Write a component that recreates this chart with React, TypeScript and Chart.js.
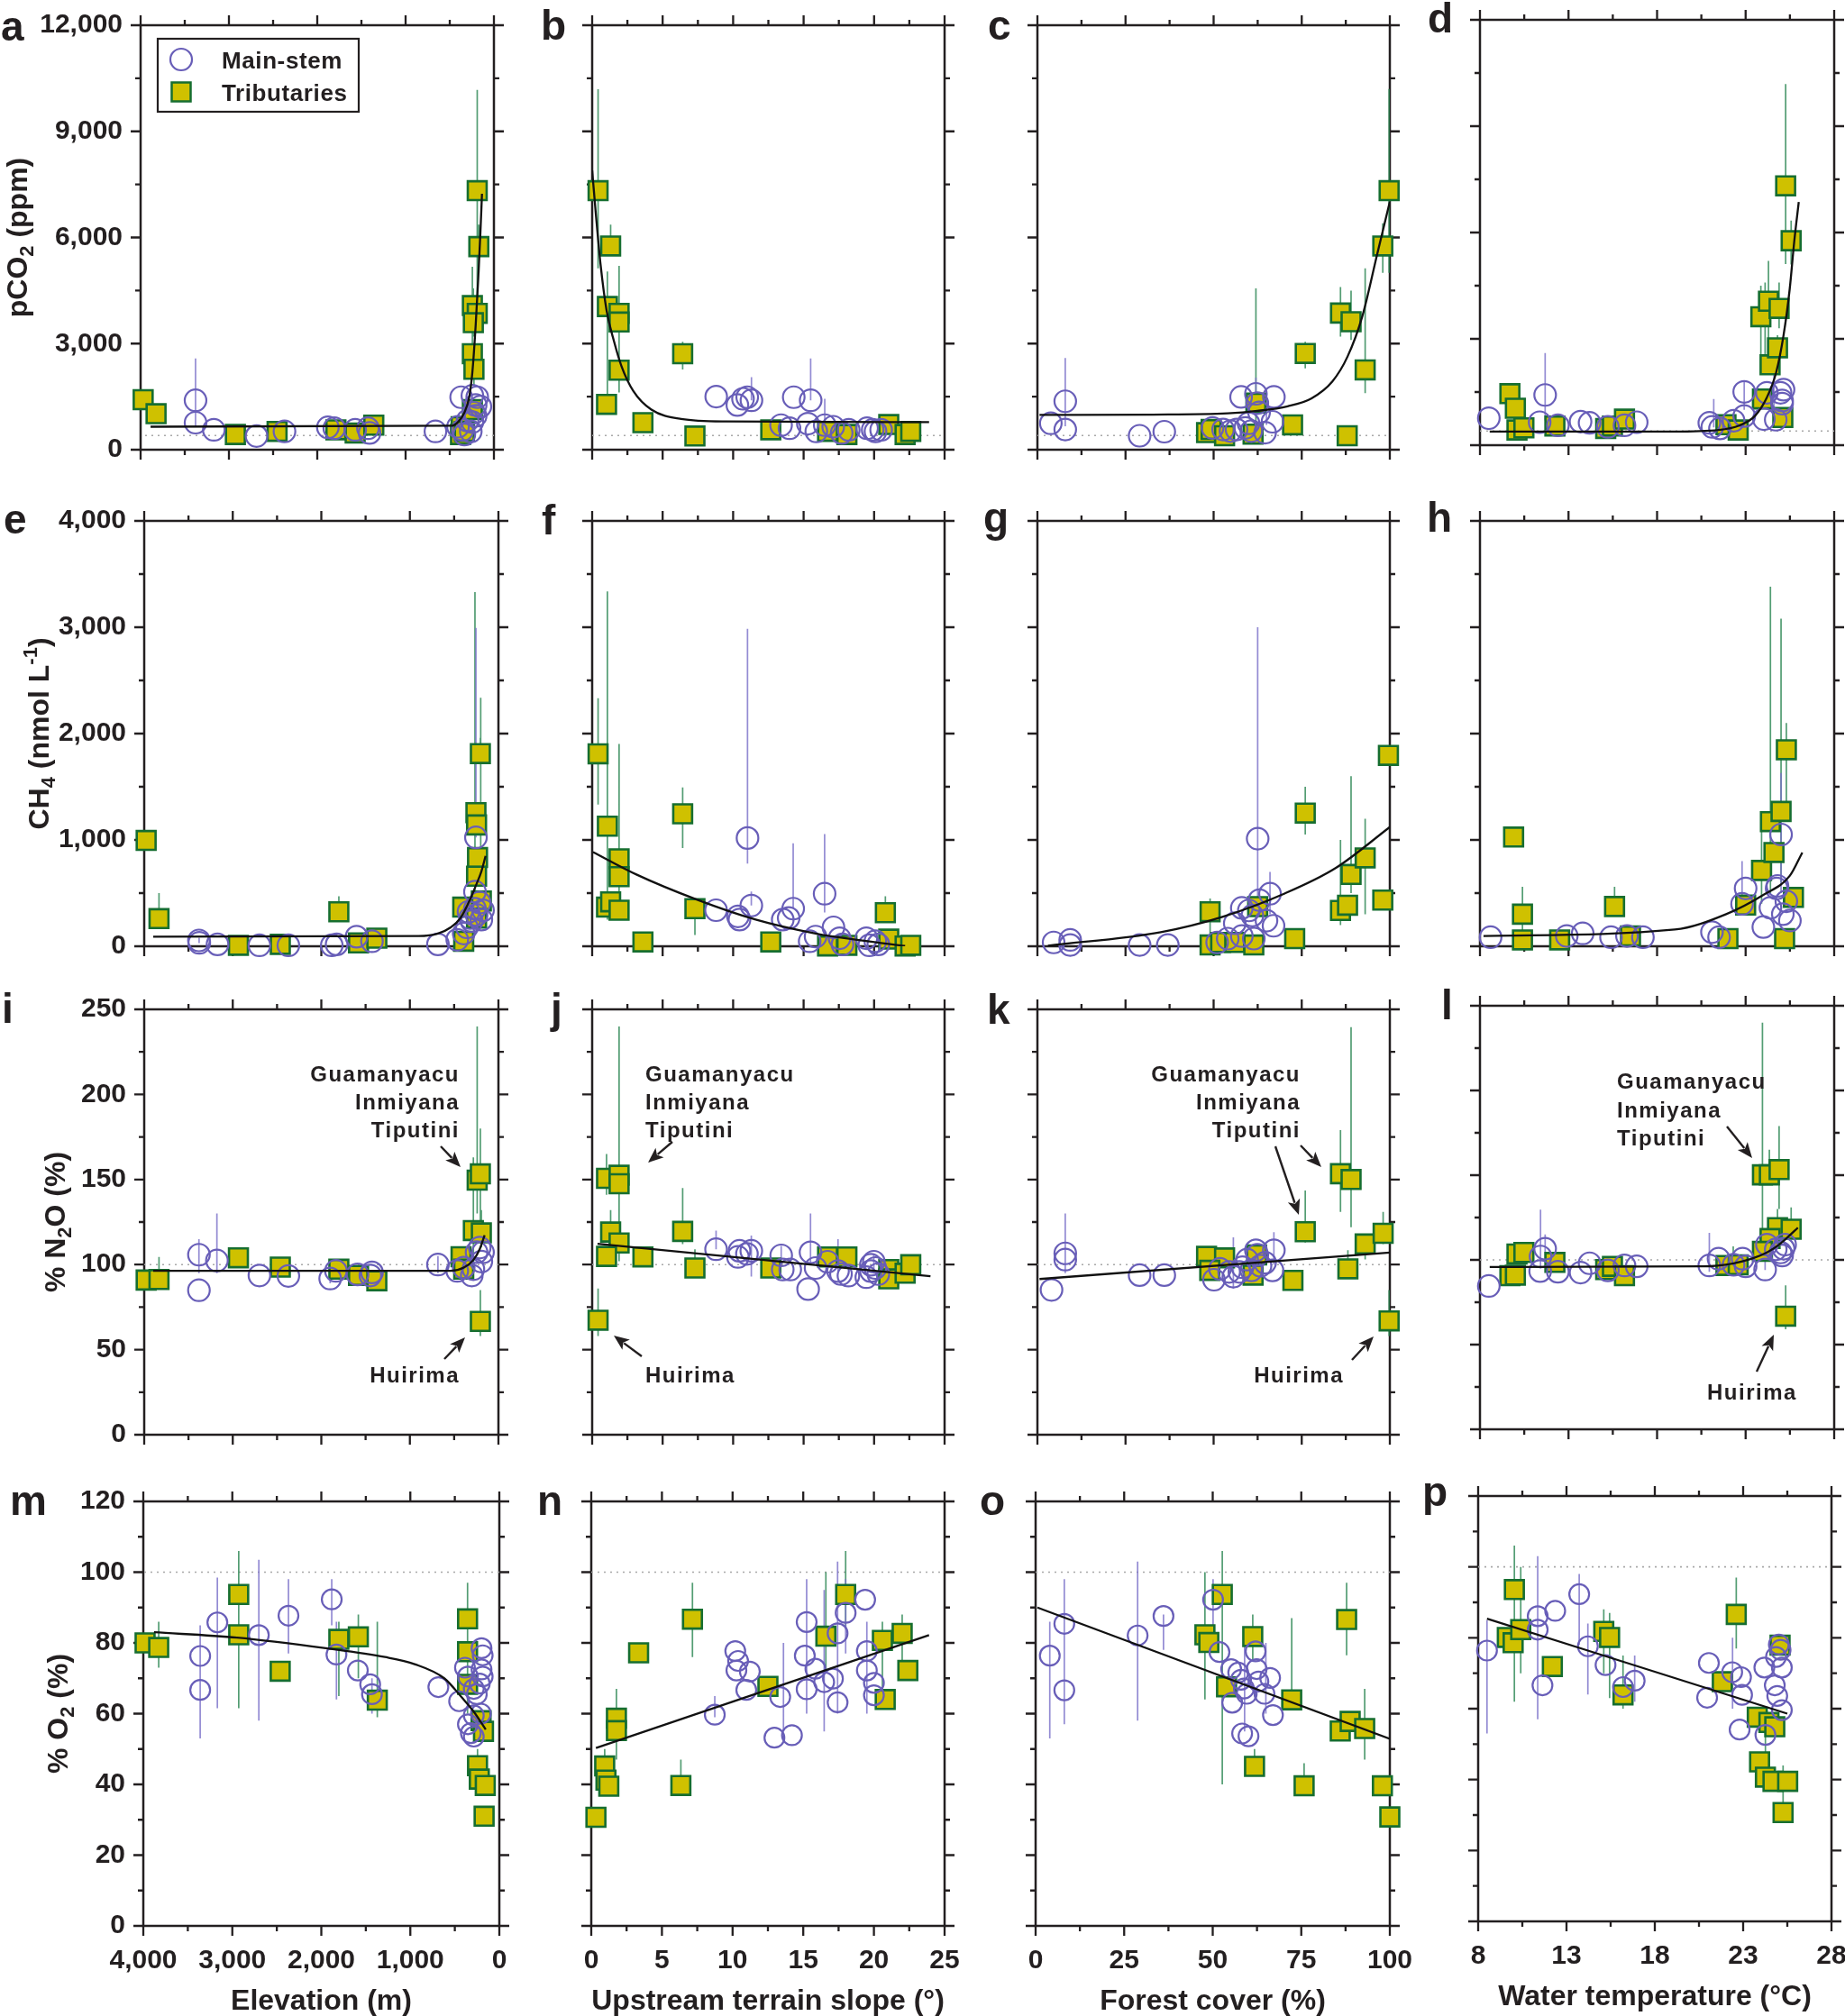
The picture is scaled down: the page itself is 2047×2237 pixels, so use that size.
import React, { useEffect, useRef } from 'react';
import { Chart, registerables } from 'chart.js';
Chart.register(...registerables);

const FONT = '"Liberation Sans", Arial, Helvetica, sans-serif';
const INK = '#231f20';
const PURPLE = 'rgb(104, 94, 184)';
const PURPLE_ERR = 'rgba(120, 110, 200, 0.8)';
const YELLOW = 'rgb(207, 193, 0)';
const GREEN = 'rgb(22, 110, 48)';
const GREEN_ERR = 'rgba(40, 132, 80, 0.8)';

// ---------- axis ticks ----------
const elevTicks = [0, 1000, 2000, 3000, 4000];
const slopeTicks = [0, 5, 10, 15, 20, 25];
const forestTicks = [0, 25, 50, 75, 100];
const tempTicks = [8, 13, 18, 23, 28];
const pco2Ticks = [0, 3000, 6000, 9000, 12000];
const ch4Ticks = [0, 1000, 2000, 3000, 4000];
const n2oTicks = [0, 50, 100, 150, 200, 250];
const o2Ticks = [0, 20, 40, 60, 80, 100, 120];

// ---------- panel a : elevation vs pCO2 ----------
const aMain = [[3378,1396],[3378,764],[3171,562],[2687,386],[2371,518],[1880,632],[1807,606],[1571,562],[1426,606],[1408,474],[662,518],[371,1484],[244,1528],[189,1484],[207,1264],[226,1045],[298,825],[244,781],[407,650],[353,562],[335,430],[262,518],[207,957],[153,1220]];
const aTrib = [[3971,1414],[3825,1018],[2927,430],[2455,518],[1789,562],[1571,474],[1360,694],[189,7323],[171,5742],[244,4074],[189,3855],[233,3591],[244,2713],[226,2274],[371,650],[378,430],[244,1133],[335,518]];
const aMainErr = [[3378,650,2580],[300,700,1500]];
const aTribErr = [[189,4300,10170],[171,5000,6360],[244,3000,5170],[233,3200,4560],[226,1800,3000]];
const aFit = [[3887,650],[480,676],[407,781],[335,1045],[280,1484],[244,2186],[207,3503],[178,4820],[153,6137],[135,7235]];

// ---------- panel b : slope vs pCO2 ----------
const bMain = [[8.8,1501],[10.3,1264],[10.7,1440],[11.3,1396],[11.0,1484],[14.3,1484],[15.5,1396],[13.4,694],[14.0,606],[15.3,738],[15.9,518],[16.5,694],[17.1,650],[17.7,474],[18.2,562],[19.5,606],[19.9,562],[20.1,518],[20.5,562]];
const bTrib = [[0.42,7323],[1.31,5760],[1.08,4048],[1.91,3855],[1.91,3609],[1.91,2248],[1.02,1282],[3.6,764],[6.42,2713],[7.29,386],[12.67,562],[16.7,518],[18.07,430],[21.04,711],[22.2,430],[22.6,518]];
const bMainErr = [[11.3,1396,2054],[15.5,1396,2581],[16.5,694,1440]];
const bTribErr = [[0.42,5128,10194],[1.31,5760,6360],[1.08,1528,5040],[1.91,1616,5198],[6.42,2270,3050]];
const bFit = [[0,7893],[0.28,6576],[0.59,5259],[1.02,3942],[1.55,3064],[2.08,2362],[2.92,1659],[4.2,1133],[6.31,869],[9.49,799],[23.9,781]];

// ---------- panel c : forest vs pCO2 ----------
const cMain = [[3.8,746],[7.9,1370],[7.9,571],[29,395],[36,509],[49.7,615],[52.7,571],[54.8,527],[56.5,571],[57.8,1493],[59,615],[60.7,527],[62,1580],[62.4,1317],[62.9,1054],[67.1,1493],[66.7,790],[64.6,483],[59.9,746]];
const cTrib = [[48,483],[49.3,571],[53.1,395],[61.2,439],[62,1317],[72.4,702],[76,2722],[86,3863],[89,3617],[93,2257],[87.9,395],[98,5760],[99.8,7323]];
const cMainErr = [[7.9,660,2590],[62,1300,2040],[65,700,1500]];
const cTribErr = [[62,500,4560],[76,2300,3050],[86,3200,4600],[89,3100,4500],[93,1600,5130],[98,5000,6400],[99.8,5000,10200]];
const cFit = [[0.6,983],[32.7,992],[54,1027],[62.4,1097],[71,1229],[77.7,1449],[83.7,1932],[88,2634],[92.2,3775],[96.4,5523],[100,7015]];

// ---------- panel d : temperature vs pCO2 ----------
const dMain = [[8.5,762],[11.68,1418],[11.37,648],[12.4,560],[13.68,665],[14.19,630],[15.22,516],[16.16,560],[16.85,648],[20.95,630],[21.12,516],[21.55,473],[22.32,691],[22.92,1505],[22.92,823],[24.03,735],[24.2,1479],[24.7,718],[24.97,1479],[25.14,1567],[25.06,1260],[25.06,1173]];
const dTrib = [[9.69,1453],[10,1042],[10.09,429],[10.48,490],[12.23,543],[15.1,473],[15.48,543],[16.16,735],[21.89,578],[22.58,429],[23.95,1304],[24.38,2267],[24.8,2748],[23.86,3624],[24.29,4061],[24.89,3860],[25.26,7318],[25.57,5768],[25.1,779]];
const dMainErr = [[11.68,700,2600],[21.2,500,1300],[22.92,1000,1800],[24.6,800,2000]];
const dTribErr = [[25.26,5112,10188],[25.57,5100,6337],[24.29,3000,5199],[24.1,2000,4587],[24.89,3300,4587],[23.86,2000,4500],[24.8,2300,3100]];
const dFit = [[8.55,385],[18.9,385],[21.47,429],[22.66,560],[23.52,823],[24.2,1348],[24.72,2048],[25.14,3099],[25.49,4411],[25.74,5724],[26,6862]];

// ---------- panel e : elevation vs CH4 ----------
const eMain = [[3382,55],[3378,32],[3172,18],[2699,9],[2372,9],[1882,9],[1827,18],[1602,90],[1428,47],[683,18],[465,61],[392,120],[356,178],[320,265],[265,353],[254,1024],[265,513],[211,411],[174,338],[247,295],[301,236],[193,251],[338,324]];
const eTrib = [[3978,995],[3833,260],[2936,9],[2463,18],[1802,324],[1580,32],[1373,76],[204,1812],[254,1257],[247,1141],[236,834],[247,659],[193,426],[403,368],[392,47],[247,265]];
const eMainErr = [[254,1024,2993],[3380,30,80]];
const eTribErr = [[3833,260,500],[1802,240,470],[265,400,3330],[200,600,2337],[204,1812,1960]];
const eFit = [[3898,90],[901,96],[683,120],[538,178],[429,265],[320,441],[247,586],[193,703],[145,849]];

// ---------- panel f : slope vs CH4 ----------
const fMain = [[8.79,339],[10.34,281],[10.45,251],[11.29,383],[11.02,1018],[13.52,251],[13.94,266],[14.26,354],[16.49,494],[15.43,47],[15.85,91],[17.12,178],[17.55,76],[17.76,18],[19.45,76],[19.66,9],[20.09,47],[20.3,18]];
const fTrib = [[0.42,1810],[1.08,1129],[1.91,822],[1.91,655],[1.02,368],[1.31,418],[1.91,339],[3.6,41],[6.42,1246],[7.29,354],[12.67,41],[16.7,3],[18.07,9],[20.8,316],[21.04,67],[22.2,3],[22.6,9]];
const fMainErr = [[11.02,778,2985],[11.29,383,514],[14.26,354,968],[16.49,317,1056]];
const fTribErr = [[0.42,1333,2333],[1.08,251,3336],[1.91,339,1903],[6.42,924,1494],[7.29,105,354],[20.8,316,470]];
const fFit = [[0.06,886],[3.14,675],[7.37,442],[11.6,251],[15.85,120],[19.03,56],[22.2,3]];

// ---------- panel g : forest vs CH4 ----------
const gMain = [[4.6,36],[9.3,60],[9.3,12],[29,12],[37,12],[56,217],[58,361],[60,337],[62.5,1012],[63,434],[61,289],[65,241],[66,494],[54,72],[51,36],[58,96],[61.4,72],[67,193]];
const gTrib = [[49,325],[49,12],[52,36],[56,36],[61.4,12],[62.5,373],[73,72],[76,1253],[86,337],[88,386],[89,675],[93,831],[98,434],[99.6,1795]];
const gMainErr = [[62.5,300,3000],[66,300,700]];
const gTribErr = [[49,100,450],[76,1050,1500],[86,200,1000],[89,500,1600],[93,300,1200]];
const gFit = [[3,5],[35,133],[52.5,277],[70,494],[84.6,735],[100,1121]];

// ---------- panel h : temperature vs CH4 ----------
const hMain = [[8.6,85],[12.9,97],[13.8,121],[15.4,85],[16.3,97],[17.2,85],[21.1,133],[21.5,85],[22.8,399],[23,544],[24,181],[24.8,568],[25,1051],[25.1,302],[25.3,423],[24.4,362],[25.5,242],[24.75,544]];
const hTrib = [[9.9,1027],[10.4,302],[10.4,60],[12.5,60],[15.6,374],[16.5,97],[22,72],[23,387],[23.9,713],[24.4,1172],[24.6,882],[25,1268],[25.3,1848],[25.7,459],[25.2,72]];
const hMainErr = [[22.8,300,800],[25,500,1630]];
const hTribErr = [[10.4,150,560],[15.6,300,560],[24.4,500,3382],[25,600,3080],[25.3,1300,2100],[23.9,400,1200]];
const hFit = [[8.2,97],[19,157],[21.9,302],[24,483],[25.5,664],[26.2,882]];

// ---------- panel i : elevation vs N2O ----------
const iMain = [[3382,105.8],[3382,84.9],[3179,102.4],[2699,93.6],[2372,93.3],[1900,91.8],[1835,96.3],[1591,94.2],[1428,95.4],[1446,93.6],[683,100],[465,96.3],[392,98.2],[301,93.6],[247,107.3],[193,101.8],[174,107.3],[211,110],[283,97.3]];
const iTrib = [[3978,90.9],[3833,91.2],[2936,104],[2463,98.5],[1802,97.3],[1580,93.6],[1373,90.5],[240,149.6],[204,153.3],[283,120],[193,118.6],[422,104.6],[392,97.3],[204,66.6]];
const iMainErr = [[3382,95,115],[3179,95,130],[683,95,105],[1900,89,97],[465,93,108]];
const iTribErr = [[3833,91.2,104.5],[240,130,240],[204,120,180],[283,105,163],[193,110,132],[204,58,85]];
const iFit = [[3898,96.3],[538,96.3],[392,98.2],[283,102.7],[211,109.1],[156,117.3]];

// ---------- panel j : slope vs N2O ----------
const jMain = [[8.79,109],[10.34,104.5],[10.45,108.1],[11.29,108.1],[10.98,106.3],[13.41,105.4],[13.52,97.1],[14.05,97.1],[15.32,85.6],[15.49,107.2],[15.85,98],[16.7,101.7],[17.44,96.2],[17.65,94.4],[18.18,93.5],[19.45,92.6],[19.77,96.2],[19.98,101.7],[20.09,98],[20.3,94.4],[19.77,99.9]];
const jTrib = [[1.02,150.7],[1.91,152.5],[1.91,147.5],[1.31,119.1],[1.91,112.7],[1.02,104.8],[3.6,104.5],[6.42,119.5],[7.29,98],[0.42,67.3],[12.67,98],[16.7,104.5],[18.07,104.5],[21.04,97.1],[21.04,91.6],[22.2,94.9],[22.6,99.9]];
const jMainErr = [[8.79,109,120],[11.29,93,117],[13.41,100,111],[15.49,100,130],[17.44,96,115],[19.98,96,106]];
const jTribErr = [[1.02,141,165],[1.91,102,240],[1.31,119,132],[6.42,112,145],[7.29,98,109],[0.42,58,86]];
const jFit = [[0.38,112.2],[24,93.1]];

// ---------- panel k : forest vs N2O ----------
const kMain = [[4,85.1],[7.9,106.6],[7.9,102.9],[29,93.8],[36,93.8],[50.1,91.1],[51.8,97.5],[54.4,95.7],[55.6,92.9],[58.2,98.4],[59.5,102.9],[60.7,96.6],[62,108.4],[62.4,105.7],[64.6,101.1],[66.7,96.6],[67.1,108.4],[57.3,95.7],[63.3,99.3]];
const kTrib = [[48,104.8],[53.1,103.9],[48.9,96.6],[61.2,93.8],[62.2,105.7],[72.5,90.7],[76,119.3],[86,153.4],[89,150],[88.1,97.5],[93,112.1],[98.1,118.4],[99.8,66.9]];
const kMainErr = [[7.9,95,130],[55.6,86,116],[67.1,100,119],[62,95,112]];
const kTribErr = [[76,113,143.5],[86,131,179],[89,122,239.6],[88.1,97.5,108.5],[93,103,115],[98.1,112,131],[99.8,58,85]];
const kFit = [[0.6,91.5],[100,107.1]];

// ---------- panel l : temperature vs N2O ----------
const lMain = [[8.5,84.6],[11.42,102],[11.68,106.6],[11.4,93.4],[12.4,93],[13.68,92.5],[14.19,98],[15.22,93.8],[16.16,96.7],[16.85,96.2],[20.95,96.7],[21.47,100.7],[22.32,97.1],[22.83,100.7],[23,96.2],[24.1,94.3],[24.2,109],[24.7,106.2],[24.97,104.4],[25.23,109],[25.06,102.6],[25.14,106.6]];
const lTrib = [[9.69,90.7],[10,91],[10.09,103.5],[10.48,104.4],[12.23,98.5],[15.1,94.3],[15.48,96.2],[16.16,90.7],[21.89,96.7],[22.58,97.1],[23.95,150.2],[24.34,150.2],[24.89,153.3],[24.8,119],[24.38,112.6],[25.57,118.1],[23.95,105],[25.26,66.8]];
const lMainErr = [[11.42,95,129.6],[11.68,100,115],[20.95,93,116],[24.1,94,115]];
const lTribErr = [[23.95,105,240],[24.34,145,165],[24.89,130,179],[24.8,119,130],[25.57,118,131],[25.26,59,85],[22.3,97,108]];
const lFit = [[8.55,95.8],[20.6,96.2],[22.32,98],[23.35,100.7],[24.2,104.4],[24.89,109],[25.4,113.6],[25.95,119]];

// ---------- panel m : elevation vs O2 ----------
const mMain = [[3361,76.3],[3361,66.7],[3168,85.8],[2702,82.2],[2369,87.7],[1883,92.3],[1830,76.7],[1590,72.2],[1451,68.3],[1431,65.5],[685,67.5],[452,63.5],[386,73],[353,70.5],[353,57],[320,54.5],[287,53.5],[287,67],[253,65.5],[220,68.5],[200,78.5],[187,76.5],[200,72.5],[187,70.5],[207,60],[287,59.5]];
const mTrib = [[3980,80],[3827,78.7],[2928,93.7],[2928,82.3],[2462,72],[1803,81],[1584,81.7],[1371,63.8],[357,86.8],[357,77.5],[357,68.3],[205,58],[178,55],[245,45.3],[225,41.5],[158,39.7],[171,31]];
const mMainErr = [[3361,53,85],[3168,61.5,98.5],[2702,58,103.5],[2369,77,98],[1883,85,98],[1830,64,86],[1431,60,70]];
const mTribErr = [[3827,73,86],[2928,61.5,106],[1803,65,86],[1584,70,88],[1371,59,86],[357,60,97],[245,40,50]];
const mFit = [[3880,83],[2948,81.5],[1950,78.5],[1284,76],[952,74],[619,70],[419,64.5],[286,60.5],[153,55.5]];

// ---------- panel n : slope vs O2 ----------
const nMain = [[8.74,59.7],[10.19,77.7],[10.39,74.9],[11.22,71.9],[10.97,66.7],[10.27,72.2],[13.37,64.7],[12.96,53.2],[14.2,53.9],[15.24,85.9],[15.11,76.4],[15.24,66.9],[15.86,72.7],[16.48,68.9],[17.1,69.9],[17.43,82.7],[17.43,63.2],[18,88.5],[19.38,92.2],[19.5,77.7],[19.5,72.2],[20,68.7],[20,65.2]];
const nTrib = [[0.33,30.7],[0.95,45.2],[1.04,41.2],[1.24,39.5],[1.78,58.7],[1.78,55.2],[3.35,77.2],[7.16,86.7],[6.34,39.7],[12.5,67.7],[16.6,81.9],[18,93.7],[20.6,80.7],[20.8,64],[22,82.7],[22.4,72.2]];
const nMainErr = [[8.74,59,65],[15.24,60,98],[13.6,55,80],[17.43,60,103],[18,77,98],[19.5,60,86],[16.48,55,95]];
const nTribErr = [[0.95,40,50],[1.78,47,67],[7.16,76,97],[6.34,39.7,47],[16.6,72,100],[18,84,106],[20.6,62,86],[22,72,88]];
const nFit = [[0.33,50.3],[23.9,82.2]];

// ---------- panel o : forest vs O2 ----------
const oMain = [[4,76.4],[8.1,85.4],[8.1,66.6],[28.8,82.1],[36.1,87.6],[50.1,92.2],[51.9,77.4],[55.2,72.6],[55.5,63.1],[58,69.6],[58.3,54.4],[60.1,53.6],[62.1,77.6],[62.4,72.6],[62.9,69.1],[64.6,65.6],[66.2,70.1],[67,59.6],[59.6,65.6],[58.8,67.1],[57.2,71.6]];
const oTrib = [[47.8,82.3],[48.9,80.1],[52.7,93.7],[53.9,67.6],[61.3,81.8],[61.8,45.1],[72.3,63.9],[75.8,39.6],[86,55.1],[88.8,57.8],[87.8,86.6],[92.9,55.8],[97.9,39.6],[100,30.8]];
const oMainErr = [[4,53,86],[8.1,57,98],[28.8,58,103],[36.1,78,88],[50.1,80,98],[59,55,80],[65,60,80]];
const oTribErr = [[47.8,64,100],[52.7,40,106],[61.3,75,88],[61.8,45,50],[72.3,64,87],[75.8,40,46],[87.8,76.5,97],[92.9,47,67]];
const oFit = [[0.5,90],[100,52.9]];

// ---------- panel p : temperature vs O2 ----------
const pMain = [[8.5,76.4],[11.37,86.1],[11.37,82.3],[11.64,66.6],[12.36,87.6],[13.72,92.3],[14.21,77.6],[15.21,72.3],[16.2,66.1],[16.86,67.9],[21.06,72.9],[20.96,63.1],[22.38,70.3],[22.88,68.9],[22.94,63.9],[22.8,54.1],[24.2,71.6],[24.26,52.6],[24.79,66.6],[24.86,74.6],[25.02,78.1],[25.19,71.6],[25.19,59.6],[24.93,63.6],[25.12,76.6]];
const pTrib = [[10.05,93.6],[9.65,80.1],[9.98,78.6],[10.41,82.3],[12.2,71.9],[15.11,81.8],[15.44,80.1],[16.2,63.9],[21.82,67.6],[22.61,86.6],[23.8,57.6],[23.93,45],[24.26,40.7],[24.46,56.1],[24.79,54.9],[24.69,39.5],[25.52,39.5],[25.26,30.7],[25.09,77.9]];
const pMainErr = [[8.5,53,85],[11.37,57,103],[13.72,78,98],[14.21,64,84],[16.86,62,75],[22.4,60,80]];
const pTribErr = [[10.05,62,106],[10.41,70,100],[15.11,70,88],[15.44,63,87],[16.2,60,75],[22.61,77,97],[25.26,30.7,44],[24.26,40,55]];
const pFit = [[8.5,85.4],[25.5,58.6]];

// ---------- axes ----------
const X_AXES = [
  { min: 0, max: 4000, reverse: true, ticks: elevTicks, title: 'Elevation (m)' },
  { min: 0, max: 25, reverse: false, ticks: slopeTicks, title: 'Upstream terrain slope (°)' },
  { min: 0, max: 100, reverse: false, ticks: forestTicks, title: 'Forest cover (%)' },
  { min: 8, max: 28, reverse: false, ticks: tempTicks, title: 'Water temperature (°C)' },
];
const Y_AXES = [
  { min: 0, max: 12000, ticks: pco2Ticks, ref: 400, titleX: 30, title: [['pCO', 'n'], ['2', 'sub'], [' (ppm)', 'n']] },
  { min: 0, max: 4000, ticks: ch4Ticks, ref: null, titleX: 54, title: [['CH', 'n'], ['4', 'sub'], [' (nmol L', 'n'], ['-1', 'sup'], [')', 'n']] },
  { min: 0, max: 250, ticks: n2oTicks, ref: 100, titleX: 72, title: [['% N', 'n'], ['2', 'sub'], ['O (%)', 'n']] },
  { min: 0, max: 120, ticks: o2Ticks, ref: 100, titleX: 75, title: [['% O', 'n'], ['2', 'sub'], [' (%)', 'n']] },
];

// annotation layout (pixel offsets from plot's top-left)
const iNotes = { texts: [['Guamanyacu', 350, 80, 'right'], ['Inmiyana', 350, 111, 'right'], ['Tiputini', 350, 142, 'right'], ['Huirima', 350, 414, 'right']], arrows: [[329, 152, 351, 175], [333, 388, 356, 364]] };
const jNotes = { texts: [['Guamanyacu', 59, 80, 'left'], ['Inmiyana', 59, 111, 'left'], ['Tiputini', 59, 142, 'left'], ['Huirima', 59, 414, 'left']], arrows: [[89, 147, 62, 170], [55, 385, 24, 362]] };
const kNotes = { texts: [['Guamanyacu', 292, 80, 'right'], ['Inmiyana', 292, 111, 'right'], ['Tiputini', 292, 142, 'right'], ['Huirima', 340, 414, 'right']], arrows: [[264, 152, 290, 228], [292, 151, 315, 175], [349, 389, 373, 363]] };
const lNotes = { texts: [['Guamanyacu', 152, 92, 'left'], ['Inmiyana', 152, 124, 'left'], ['Tiputini', 152, 155, 'left'], ['Huirima', 252, 437, 'left']], arrows: [[274, 134, 302, 169], [307, 406, 326, 365]] };

const PANELS = [
  { letter: 'a', row: 0, col: 0, l: 156, t: 28, r: 548, b: 499, lx: 1, ly: 45, main: aMain, trib: aTrib, mainErr: aMainErr, tribErr: aTribErr, fit: aFit, legend: true },
  { letter: 'b', row: 0, col: 1, l: 657, t: 28, r: 1048, b: 499, lx: 600, ly: 44, main: bMain, trib: bTrib, mainErr: bMainErr, tribErr: bTribErr, fit: bFit },
  { letter: 'c', row: 0, col: 2, l: 1151, t: 28, r: 1542, b: 499, lx: 1096, ly: 44, main: cMain, trib: cTrib, mainErr: cMainErr, tribErr: cTribErr, fit: cFit },
  { letter: 'd', row: 0, col: 3, l: 1642, t: 22, r: 2035, b: 494, lx: 1584, ly: 36, main: dMain, trib: dTrib, mainErr: dMainErr, tribErr: dTribErr, fit: dFit },
  { letter: 'e', row: 1, col: 0, l: 160, t: 578, r: 553, b: 1050, lx: 4, ly: 592, main: eMain, trib: eTrib, mainErr: eMainErr, tribErr: eTribErr, fit: eFit },
  { letter: 'f', row: 1, col: 1, l: 657, t: 578, r: 1048, b: 1050, lx: 601, ly: 593, main: fMain, trib: fTrib, mainErr: fMainErr, tribErr: fTribErr, fit: fFit },
  { letter: 'g', row: 1, col: 2, l: 1151, t: 578, r: 1542, b: 1050, lx: 1091, ly: 590, main: gMain, trib: gTrib, mainErr: gMainErr, tribErr: gTribErr, fit: gFit },
  { letter: 'h', row: 1, col: 3, l: 1642, t: 578, r: 2035, b: 1050, lx: 1583, ly: 590, main: hMain, trib: hTrib, mainErr: hMainErr, tribErr: hTribErr, fit: hFit },
  { letter: 'i', row: 2, col: 0, l: 160, t: 1120, r: 553, b: 1592, lx: 2, ly: 1135, main: iMain, trib: iTrib, mainErr: iMainErr, tribErr: iTribErr, fit: iFit, notes: iNotes },
  { letter: 'j', row: 2, col: 1, l: 657, t: 1120, r: 1048, b: 1592, lx: 611, ly: 1135, main: jMain, trib: jTrib, mainErr: jMainErr, tribErr: jTribErr, fit: jFit, notes: jNotes },
  { letter: 'k', row: 2, col: 2, l: 1151, t: 1120, r: 1542, b: 1592, lx: 1095, ly: 1136, main: kMain, trib: kTrib, mainErr: kMainErr, tribErr: kTribErr, fit: kFit, notes: kNotes },
  { letter: 'l', row: 2, col: 3, l: 1642, t: 1116, r: 2035, b: 1586, lx: 1599, ly: 1131, main: lMain, trib: lTrib, mainErr: lMainErr, tribErr: lTribErr, fit: lFit, notes: lNotes },
  { letter: 'm', row: 3, col: 0, l: 159, t: 1666, r: 554, b: 2137, lx: 11, ly: 1681, main: mMain, trib: mTrib, mainErr: mMainErr, tribErr: mTribErr, fit: mFit },
  { letter: 'n', row: 3, col: 1, l: 656, t: 1666, r: 1048, b: 2137, lx: 596, ly: 1681, main: nMain, trib: nTrib, mainErr: nMainErr, tribErr: nTribErr, fit: nFit },
  { letter: 'o', row: 3, col: 2, l: 1149, t: 1666, r: 1542, b: 2137, lx: 1087, ly: 1681, main: oMain, trib: oTrib, mainErr: oMainErr, tribErr: oTribErr, fit: oFit },
  { letter: 'p', row: 3, col: 3, l: 1640, t: 1660, r: 2032, b: 2132, lx: 1578, ly: 1671, main: pMain, trib: pTrib, mainErr: pMainErr, tribErr: pTribErr, fit: pFit },
];

const PAD_L = 160, PAD_T = 60, PAD_R = 40;

const pts = (arr) => arr.map(([x, y]) => ({ x, y }));
const errLine = (errs) => {
  const out = [];
  errs.forEach(([x, lo, hi]) => { out.push({ x, y: lo }, { x, y: hi }, { x, y: null }); });
  return out;
};
const fmt = (v) => (Math.abs(v) >= 1000 ? Number(v).toLocaleString('en-US') : String(v));

function drawArrow(ctx, x1, y1, x2, y2) {
  const ang = Math.atan2(y2 - y1, x2 - x1);
  const L = 17, W = 7;
  const bx = x2 - L * Math.cos(ang), by = y2 - L * Math.sin(ang);
  ctx.beginPath(); ctx.moveTo(x1, y1); ctx.lineTo(bx + 3 * Math.cos(ang), by + 3 * Math.sin(ang)); ctx.stroke();
  ctx.beginPath();
  ctx.moveTo(x2, y2);
  ctx.lineTo(bx + W * Math.sin(ang), by - W * Math.cos(ang));
  ctx.lineTo(bx + 4 * Math.cos(ang), by + 4 * Math.sin(ang));
  ctx.lineTo(bx - W * Math.sin(ang), by + W * Math.cos(ang));
  ctx.closePath(); ctx.fill();
}

function drawRotTitle(ctx, parts, bx, cy) {
  const base = 32;
  const fontFor = (k) => `bold ${k === 'n' ? base : Math.round(base * 0.68)}px ${FONT}`;
  ctx.save();
  ctx.translate(bx, cy);
  ctx.rotate(-Math.PI / 2);
  ctx.textAlign = 'left';
  ctx.textBaseline = 'alphabetic';
  let total = 0;
  parts.forEach(([t, k]) => { ctx.font = fontFor(k); total += ctx.measureText(t).width; });
  let x = -total / 2;
  parts.forEach(([t, k]) => {
    ctx.font = fontFor(k);
    const dy = k === 'sub' ? 7 : k === 'sup' ? -13 : 0;
    ctx.fillText(t, x, dy);
    x += ctx.measureText(t).width;
  });
  ctx.restore();
}

function makePlugin(p, g) {
  const xc = X_AXES[p.col], yc = Y_AXES[p.row];
  return {
    id: 'deco_' + p.letter,
    beforeDatasetsDraw(chart) {
      const { ctx, chartArea: ca } = chart;
      const xs = chart.scales.x, ys = chart.scales.y;
      ctx.save();
      ctx.strokeStyle = INK;
      ctx.lineWidth = 2.5;
      ctx.strokeRect(ca.left, ca.top, ca.right - ca.left, ca.bottom - ca.top);
      const MAJ = 11, MIN = 6;
      ctx.lineWidth = 2.3;
      ctx.beginPath();
      const xt = xc.ticks;
      xt.forEach((v, i) => {
        const px = xs.getPixelForValue(v);
        ctx.moveTo(px, ca.bottom); ctx.lineTo(px, ca.bottom + MAJ);
        ctx.moveTo(px, ca.top); ctx.lineTo(px, ca.top - MAJ);
        if (i < xt.length - 1) {
          const mx = xs.getPixelForValue((v + xt[i + 1]) / 2);
          ctx.moveTo(mx, ca.bottom); ctx.lineTo(mx, ca.bottom + MIN);
          ctx.moveTo(mx, ca.top); ctx.lineTo(mx, ca.top - MIN);
        }
      });
      const yt = yc.ticks;
      yt.forEach((v, i) => {
        const py = ys.getPixelForValue(v);
        ctx.moveTo(ca.left, py); ctx.lineTo(ca.left - MAJ, py);
        ctx.moveTo(ca.right, py); ctx.lineTo(ca.right + MAJ, py);
        if (i < yt.length - 1) {
          const my = ys.getPixelForValue((v + yt[i + 1]) / 2);
          ctx.moveTo(ca.left, my); ctx.lineTo(ca.left - MIN, my);
          ctx.moveTo(ca.right, my); ctx.lineTo(ca.right + MIN, my);
        }
      });
      ctx.stroke();
      ctx.restore();
    },
    afterDraw(chart) {
      const { ctx, chartArea: ca } = chart;
      ctx.save();
      ctx.fillStyle = INK;
      ctx.strokeStyle = INK;
      ctx.textBaseline = 'alphabetic';
      // panel letter
      ctx.font = `bold 46px ${FONT}`;
      ctx.textAlign = 'left';
      ctx.fillText(p.letter, p.lx - g.cl, p.ly - g.ct);
      // y title
      if (p.col === 0) drawRotTitle(ctx, yc.title, yc.titleX - g.cl, (p.t + p.b) / 2 - g.ct);
      // x title
      if (p.row === 3) {
        ctx.font = `bold 32px ${FONT}`;
        ctx.textAlign = 'center';
        ctx.fillText(xc.title, (ca.left + ca.right) / 2, ca.bottom + 93);
      }
      // annotations
      if (p.notes) {
        ctx.font = `bold 24px ${FONT}`;
        try { ctx.letterSpacing = '1.5px'; } catch (e) { /* ignore */ }
        p.notes.texts.forEach(([t, dx, dy, al]) => {
          ctx.textAlign = al;
          ctx.fillText(t, ca.left + dx, ca.top + dy);
        });
        try { ctx.letterSpacing = '0px'; } catch (e) { /* ignore */ }
        ctx.lineWidth = 2.4;
        p.notes.arrows.forEach(([x1, y1, x2, y2]) => drawArrow(ctx, ca.left + x1, ca.top + y1, ca.left + x2, ca.top + y2));
      }
      // legend
      if (p.legend) {
        const bx = ca.left + 19, by = ca.top + 15, bw = 223, bh = 81;
        ctx.fillStyle = '#ffffff';
        ctx.fillRect(bx, by, bw, bh);
        ctx.lineWidth = 2.2;
        ctx.strokeStyle = INK;
        ctx.strokeRect(bx, by, bw, bh);
        ctx.beginPath();
        ctx.arc(ca.left + 45, ca.top + 38, 12, 0, Math.PI * 2);
        ctx.strokeStyle = PURPLE; ctx.lineWidth = 2.2; ctx.stroke();
        ctx.fillStyle = YELLOW; ctx.fillRect(ca.left + 34.5, ca.top + 63.5, 21, 21);
        ctx.strokeStyle = GREEN; ctx.lineWidth = 2.5; ctx.strokeRect(ca.left + 34.5, ca.top + 63.5, 21, 21);
        ctx.fillStyle = INK;
        ctx.font = `bold 26px ${FONT}`;
        try { ctx.letterSpacing = '0.6px'; } catch (e) { /* ignore */ }
        ctx.textAlign = 'left';
        ctx.fillText('Main-stem', ca.left + 90, ca.top + 48);
        ctx.fillText('Tributaries', ca.left + 90, ca.top + 84);
        try { ctx.letterSpacing = '0px'; } catch (e) { /* ignore */ }
      }
      ctx.restore();
    },
  };
}

function buildConfig(p, g) {
  const xc = X_AXES[p.col], yc = Y_AXES[p.row];
  const datasets: any[] = [
    { type: 'line', label: 'fit', data: pts(p.fit), borderColor: '#111', borderWidth: 2.3, pointRadius: 0, cubicInterpolationMode: 'monotone', fill: false, order: 0 },
    { type: 'scatter', label: 'Main-stem', data: pts(p.main), pointStyle: 'circle', pointRadius: p.row === 3 ? 11 : 12, backgroundColor: 'rgba(0,0,0,0)', borderColor: PURPLE, borderWidth: 2.2, order: 1, clip: false },
    { type: 'scatter', label: 'Tributaries', data: pts(p.trib), pointStyle: 'rect', pointRadius: 14.8, backgroundColor: YELLOW, borderColor: GREEN, borderWidth: 2.6, order: 2, clip: false },
    { type: 'line', label: 'mainErr', data: errLine(p.mainErr), borderColor: PURPLE_ERR, borderWidth: 1.7, pointRadius: 0, spanGaps: false, order: 3 },
    { type: 'line', label: 'tribErr', data: errLine(p.tribErr), borderColor: GREEN_ERR, borderWidth: 1.7, pointRadius: 0, spanGaps: false, order: 4 },
  ];
  if (yc.ref != null) {
    datasets.push({ type: 'line', label: 'ref', data: [{ x: xc.min, y: yc.ref }, { x: xc.max, y: yc.ref }], borderColor: '#a8a8a8', borderWidth: 1.6, borderDash: [2, 5], pointRadius: 0, order: 5 });
  }
  const tickFont = { family: FONT, size: 30, weight: 'bold' };
  return {
    type: 'scatter',
    data: { datasets },
    options: {
      responsive: false,
      animation: false,
      devicePixelRatio: 1,
      events: [],
      layout: { padding: { left: 0, top: PAD_T, right: PAD_R, bottom: 0 } },
      plugins: { legend: { display: false }, tooltip: { enabled: false } },
      scales: {
        x: {
          type: 'linear', min: xc.min, max: xc.max, reverse: xc.reverse,
          afterBuildTicks: (s) => { s.ticks = xc.ticks.map((v) => ({ value: v })); },
          afterFit: (s) => { s.height = g.padB; },
          grid: { display: false }, border: { display: false },
          ticks: { display: p.row === 3, autoSkip: false, maxRotation: 0, minRotation: 0, padding: 13, color: INK, font: tickFont, callback: (v) => fmt(v) },
        },
        y: {
          type: 'linear', min: yc.min, max: yc.max,
          afterBuildTicks: (s) => { s.ticks = yc.ticks.map((v) => ({ value: v })); },
          afterFit: (s) => { s.width = PAD_L; },
          grid: { display: false }, border: { display: false },
          ticks: { display: p.col === 0, autoSkip: false, padding: 12, color: INK, font: tickFont, callback: (v) => fmt(v) },
        },
      },
    },
    plugins: [makePlugin(p, g)],
  };
}

function Panel({ p }) {
  const ref = useRef(null);
  const padB = p.row === 3 ? 110 : 45;
  const g = { cl: p.l - PAD_L, ct: p.t - PAD_T, cw: p.r - p.l + PAD_L + PAD_R, ch: p.b - p.t + PAD_T + padB, padB };
  useEffect(() => {
    const chart = new Chart(ref.current, buildConfig(p, g) as any);
    return () => chart.destroy();
  }, []);
  return (
    <canvas
      ref={ref}
      width={g.cw}
      height={g.ch}
      style={{ position: 'absolute', left: g.cl, top: g.ct, width: g.cw, height: g.ch }}
    />
  );
}

export default function App() {
  return (
    <div style={{ position: 'absolute', left: 0, top: 0, width: 2047, height: 2237, overflow: 'hidden', background: '#fff' }}>
      {PANELS.map((p) => <Panel key={p.letter} p={p} />)}
    </div>
  );
}
